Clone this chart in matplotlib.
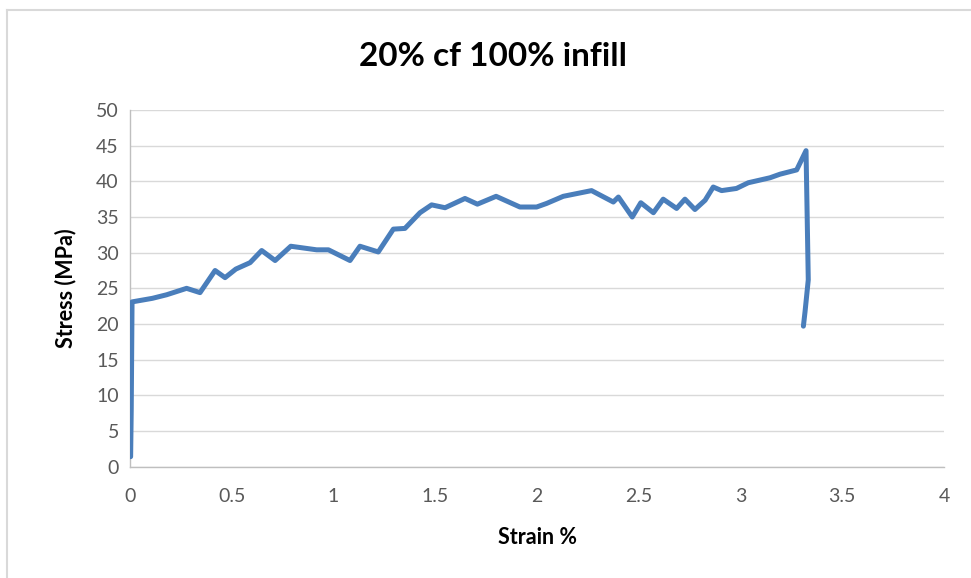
import matplotlib
matplotlib.use("Agg")
import matplotlib.pyplot as plt
from matplotlib.lines import Line2D

# strain (%) and stress (MPa)
strain = [0.003, 0.006, 0.010, 0.11, 0.18, 0.278, 0.344, 0.418, 0.467, 0.52, 0.59,
          0.647, 0.713, 0.79, 0.917, 0.975, 1.081, 1.13, 1.22, 1.294, 1.351,
          1.425, 1.482, 1.548, 1.646, 1.707, 1.799, 1.916, 1.998, 2.047, 2.129,
          2.268, 2.375, 2.40, 2.468, 2.51, 2.572, 2.62, 2.686, 2.727, 2.776,
          2.826, 2.866, 2.907, 2.98, 3.038, 3.145, 3.194, 3.276, 3.322,
          3.333, 3.317, 3.309]
stress = [1.4, 8.0, 23.1, 23.6, 24.1, 25.0, 24.4, 27.5, 26.5, 27.7, 28.6,
          30.3, 28.9, 30.9, 30.4, 30.4, 28.9, 30.9, 30.1, 33.3, 33.4,
          35.6, 36.7, 36.3, 37.6, 36.8, 37.9, 36.4, 36.4, 36.9, 37.9,
          38.7, 37.1, 37.8, 35.0, 37.0, 35.6, 37.5, 36.2, 37.5, 36.05,
          37.35, 39.2, 38.7, 39.0, 39.8, 40.5, 41.0, 41.6, 44.3,
          26.2, 21.7, 19.7]

x_ticks = [0, 0.5, 1, 1.5, 2, 2.5, 3, 3.5, 4]
x_labels = ["0", "0.5", "1", "1.5", "2", "2.5", "3", "3.5", "4"]
y_ticks = [0, 5, 10, 15, 20, 25, 30, 35, 40, 45, 50]

plt.rcParams["font.family"] = ["Lato", "DejaVu Sans"]

fig = plt.figure(figsize=(9.71, 5.78), dpi=100)
ax = fig.add_axes([0.1339, 0.1926, 0.9722 - 0.1339, 0.8097 - 0.1926])

ax.plot(strain, stress, color="#4a7ebb", linewidth=3.6, solid_joinstyle="round",
        solid_capstyle="round", zorder=3)

ax.set_xlim(0, 4)
ax.set_ylim(0, 50)
ax.set_xticks(x_ticks)
ax.set_xticklabels(x_labels)
ax.set_yticks(y_ticks)
ax.tick_params(length=0, labelsize=14, labelcolor="#595959")
ax.tick_params(axis="x", pad=15)
ax.tick_params(axis="y", pad=8)
ax.grid(axis="y", color="#d9d9d9", linewidth=1)
ax.set_axisbelow(True)
for side in ["top", "right"]:
    ax.spines[side].set_visible(False)
for side in ["left", "bottom"]:
    ax.spines[side].set_color("#bfbfbf")
    ax.spines[side].set_linewidth(1)

ax.set_xlabel("Strain %", fontsize=15.5, fontweight="bold", labelpad=16)
ax.set_ylabel("Stress (MPa)", fontsize=15.5, fontweight="bold", labelpad=14)
fig.text(0.508, 0.902, "20% cf 100% infill", ha="center", va="center",
         fontsize=24, fontweight="bold")

# chart frame edges visible in the reference (top and left)
fig.add_artist(Line2D([7 / 971, 1], [1 - 10 / 578, 1 - 10 / 578],
                      transform=fig.transFigure, color="#d9d9d9", linewidth=1.5))
fig.add_artist(Line2D([7 / 971, 7 / 971], [0, 1 - 10 / 578],
                      transform=fig.transFigure, color="#d9d9d9", linewidth=1.5))

fig.savefig("out.png", dpi=100)
